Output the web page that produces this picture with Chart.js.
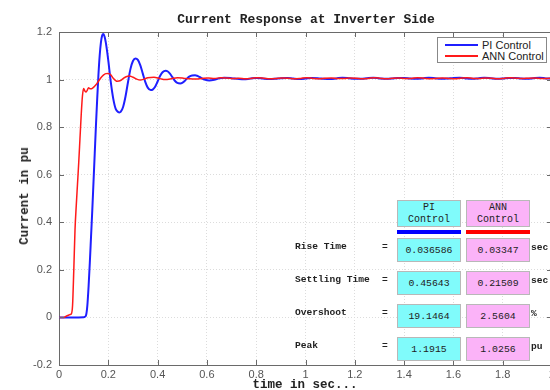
<!DOCTYPE html>
<html>
<head>
<meta charset="utf-8">
<script src="https://cdn.jsdelivr.net/npm/chart.js@4.4.1/dist/chart.umd.min.js"></script>
<style>
  html, body { margin: 0; padding: 0; background: #fff; overflow: hidden; }
  #wrap { position: relative; width: 560px; height: 390px; }
  canvas { position: absolute; left: 0; top: 0; }
  .mono { font-family: "Liberation Mono", "DejaVu Sans Mono", monospace; color: #222; }
  #title { position: absolute; left: 106px; width: 400px; top: 12px; text-align: center;
           font-size: 13px; font-weight: bold; }
  #xtitle { position: absolute; left: 205px; width: 200px; top: 378px; text-align: center;
            font-size: 12.5px; font-weight: bold; }
  #ytitle { position: absolute; left: 25px; top: 196px; white-space: nowrap;
            font-size: 12.5px; font-weight: bold; transform: translate(-50%, -50%) rotate(-90deg); }
  #legend { position: absolute; left: 437px; top: 37px; width: 108px; height: 24px;
            border: 1px solid #888; background: #fff; font-family: Arial, "Liberation Sans", sans-serif;
            font-size: 11px; color: #222; }
  #legend .row { position: absolute; left: 0; height: 12px; line-height: 12px; }
  #legend .sw { position: absolute; left: 7px; width: 33px; }
  #legend .lab { position: absolute; left: 44px; white-space: nowrap; }
  .box { position: absolute; width: 62px; height: 22px; border: 1px solid #b8b8b8;
         display: flex; align-items: center; justify-content: center; font-size: 9.8px; }
  .hdr { height: 25px; flex-direction: column; line-height: 11.5px; font-size: 10px; }
  .pi { background: #80fbfb; left: 397px; }
  .ann { background: #fbb3f8; left: 466px; }
  .bar { position: absolute; width: 64px; height: 4px; top: 230px; }
  .lbl { position: absolute; left: 295px; font-size: 9.6px; font-weight: bold; white-space: nowrap; transform: translateY(-50%); }
  .eq { position: absolute; left: 382px; font-size: 9.6px; font-weight: bold; transform: translateY(-50%); }
  .unit { position: absolute; left: 531px; font-size: 9.6px; font-weight: bold; transform: translateY(-50%); }
</style>
</head>
<body>
<div id="wrap">
  <canvas id="chart" width="560" height="390"></canvas>
  <div id="title" class="mono">Current Response at Inverter Side</div>
  <div id="xtitle" class="mono">time in sec...</div>
  <div id="ytitle" class="mono">Current in pu</div>
  <div id="legend"></div>
  <div id="table"></div>
</div>
<script>
// Step response of the inverter-side current (per unit) against time (s)
const piTime = [0, 0.05, 0.1, 0.105, 0.11, 0.115, 0.12, 0.125, 0.13, 0.135, 0.14, 0.145, 0.15, 0.155,
  0.16, 0.165, 0.17, 0.175, 0.18, 0.185, 0.19, 0.2, 0.21, 0.22, 0.23, 0.24, 0.245, 0.25, 0.26, 0.27,
  0.28, 0.29, 0.3, 0.31, 0.32, 0.33, 0.34, 0.35, 0.36, 0.372, 0.38, 0.39, 0.4, 0.41, 0.42, 0.433,
  0.44, 0.45, 0.46, 0.47, 0.48, 0.492, 0.5, 0.51, 0.52, 0.53, 0.54, 0.552, 0.56, 0.57, 0.58, 0.59,
  0.61, 0.63, 0.65, 0.67, 0.7, 0.725, 0.75, 0.775, 0.8, 0.825, 0.85, 0.875, 0.9, 0.925, 0.95, 0.975,
  1.0, 1.025, 1.05, 1.075, 1.1, 1.125, 1.15, 1.175, 1.2, 1.225, 1.25, 1.275, 1.3, 1.325, 1.35, 1.375,
  1.4, 1.425, 1.45, 1.475, 1.5, 1.525, 1.55, 1.575, 1.6, 1.625, 1.65, 1.675, 1.7, 1.725, 1.75, 1.775,
  1.8, 1.825, 1.85, 1.875, 1.9, 1.925, 1.95, 1.975, 2.0];
const piCurrent = [0, 0, 0.001, 0.003, 0.01, 0.05, 0.13, 0.23, 0.34, 0.45, 0.57, 0.69, 0.81, 0.92,
  1.02, 1.1, 1.155, 1.185, 1.1915, 1.18, 1.155, 1.08, 0.99, 0.92, 0.877, 0.864, 0.862, 0.864, 0.885, 0.93,
  0.99, 1.045, 1.078, 1.089, 1.083, 1.06, 1.025, 0.99, 0.966, 0.956, 0.958, 0.97, 0.992, 1.015, 1.031, 1.037,
  1.035, 1.025, 1.01, 0.995, 0.986, 0.984, 0.986, 0.994, 1.005, 1.013, 1.017, 1.018, 1.016, 1.011, 1.005, 1.0,
  0.996, 0.999, 1.005, 1.008, 1.006, 1.003, 1.001, 1.004, 1.007, 1.005, 1.002, 1.003, 1.006, 1.007, 1.004, 1.002,
  1.004, 1.007, 1.006, 1.003, 1.002, 1.005, 1.008, 1.006, 1.003, 1.003, 1.006, 1.008, 1.005, 1.003, 1.004, 1.007,
  1.007, 1.004, 1.003, 1.005, 1.008, 1.006, 1.003, 1.004, 1.007, 1.008, 1.005, 1.003, 1.005, 1.008, 1.006, 1.003,
  1.004, 1.007, 1.007, 1.004, 1.003, 1.006, 1.008, 1.005, 1.004];

const annTime = [0, 0.02, 0.025, 0.03, 0.035, 0.04, 0.045, 0.05, 0.055, 0.06, 0.065, 0.07, 0.075, 0.08,
  0.085, 0.09, 0.095, 0.1, 0.105, 0.11, 0.115, 0.12, 0.125, 0.13, 0.135, 0.14, 0.15, 0.16, 0.17, 0.18,
  0.19, 0.2, 0.205, 0.21, 0.22, 0.23, 0.236, 0.25, 0.26, 0.27, 0.285, 0.3, 0.315, 0.33, 0.345, 0.36,
  0.385, 0.41, 0.43, 0.455, 0.48, 0.505, 0.53, 0.555, 0.58, 0.605, 0.63, 0.655, 0.68, 0.705, 0.73, 0.755,
  0.78, 0.805, 0.83, 0.855, 0.88, 0.905, 0.93, 0.955, 0.98, 1.005, 1.03, 1.055, 1.08, 1.105, 1.13, 1.155,
  1.18, 1.205, 1.23, 1.255, 1.28, 1.305, 1.33, 1.355, 1.38, 1.405, 1.43, 1.455, 1.48, 1.505, 1.53, 1.555,
  1.58, 1.605, 1.63, 1.655, 1.68, 1.705, 1.73, 1.755, 1.78, 1.805, 1.83, 1.855, 1.88, 1.905, 1.93, 1.955,
  1.98, 2.0];
const annCurrent = [0, 0, 0.002, 0.006, 0.008, 0.01, 0.012, 0.015, 0.05, 0.2, 0.37, 0.47, 0.56, 0.65,
  0.75, 0.85, 0.93, 0.962, 0.952, 0.948, 0.956, 0.966, 0.962, 0.961, 0.963, 0.967, 0.978, 0.993, 1.008, 1.019,
  1.025, 1.0256, 1.024, 1.02, 1.006, 0.996, 0.993, 0.996, 1.004, 1.011, 1.015, 1.01, 1.002, 0.998, 1.002, 1.008,
  1.01, 1.004, 1.0, 1.003, 1.008, 1.006, 1.003, 1.002, 1.005, 1.007, 1.004, 1.008, 1.007, 1.004, 1.006, 1.003,
  1.005, 1.008, 1.006, 1.003, 1.004, 1.007, 1.006, 1.003, 1.005, 1.008, 1.005, 1.003, 1.006, 1.007, 1.004, 1.004,
  1.007, 1.006, 1.003, 1.005, 1.008, 1.005, 1.003, 1.006, 1.007, 1.004, 1.005, 1.008, 1.006, 1.003, 1.005, 1.007,
  1.005, 1.003, 1.006, 1.008, 1.005, 1.004, 1.007, 1.006, 1.003, 1.005, 1.008, 1.006, 1.004, 1.006, 1.007, 1.004,
  1.005, 1.006];

// Performance indices shown in the overlay table
const metricNames = ["Rise Time", "Settling Time", "Overshoot", "Peak"];
const piStats = ["0.036586", "0.45643", "19.1464", "1.1915"];
const annStats = ["0.03347", "0.21509", "2.5604", "1.0256"];
const metricUnits = ["sec", "sec", "%", "pu"];
const seriesNames = ["PI Control", "ANN Control"];

const xTicks = { min: 0, max: 2, step: 0.2 };
const yTicks = { min: -0.2, max: 1.2, step: 0.2 };

const toPoints = (xs, ys) => xs.map((x, i) => ({ x: x, y: ys[i] }));
const fmtTick = v => String(Number(v.toFixed(1)) || 0);

// MATLAB-style box: inward tick marks and a top border line
const boxTicks = {
  id: 'boxTicks',
  afterDraw(chart) {
    const { ctx, chartArea: a, scales } = chart;
    ctx.save();
    ctx.strokeStyle = '#6a6a6a';
    ctx.lineWidth = 1;
    ctx.beginPath();
    ctx.moveTo(a.left, a.top + 0.5);
    ctx.lineTo(a.right, a.top + 0.5);
    scales.x.ticks.forEach(t => {
      const px = Math.round(scales.x.getPixelForValue(t.value)) + 0.5;
      ctx.moveTo(px, a.bottom); ctx.lineTo(px, a.bottom - 5);
      ctx.moveTo(px, a.top); ctx.lineTo(px, a.top + 5);
    });
    scales.y.ticks.forEach(t => {
      const py = Math.round(scales.y.getPixelForValue(t.value)) + 0.5;
      ctx.moveTo(a.left, py); ctx.lineTo(a.left + 5, py);
      ctx.moveTo(a.right, py); ctx.lineTo(a.right - 5, py);
    });
    ctx.stroke();
    ctx.restore();
  }
};

new Chart(document.getElementById('chart'), {
  type: 'line',
  data: {
    datasets: [
      { label: seriesNames[0], data: toPoints(piTime, piCurrent), borderColor: '#1f1fff', order: 2,
        borderWidth: 2, pointRadius: 0, cubicInterpolationMode: 'monotone', fill: false },
      { label: seriesNames[1], data: toPoints(annTime, annCurrent), borderColor: '#ff1a1a', order: 1,
        borderWidth: 1.5, pointRadius: 0, cubicInterpolationMode: 'monotone', fill: false }
    ]
  },
  options: {
    responsive: false,
    animation: false,
    layout: { padding: { left: 0, top: 32, right: 8, bottom: 0 } },
    plugins: { legend: { display: false }, title: { display: false }, tooltip: { enabled: false } },
    scales: {
      x: {
        type: 'linear', min: xTicks.min, max: xTicks.max,
        ticks: { stepSize: xTicks.step, color: '#555', padding: 3, callback: fmtTick,
                 font: { family: 'Arial, "Liberation Sans", sans-serif', size: 11 } },
        grid: { color: '#dcdcdc', drawTicks: false, lineWidth: 1 },
        border: { display: true, color: '#6a6a6a', width: 1, dash: [1, 2] },
        afterFit(s) { s.height = 25; }
      },
      y: {
        type: 'linear', min: yTicks.min, max: yTicks.max,
        ticks: { stepSize: yTicks.step, color: '#555', padding: 7, callback: fmtTick,
                 font: { family: 'Arial, "Liberation Sans", sans-serif', size: 11 } },
        grid: { color: '#dcdcdc', drawTicks: false, lineWidth: 1 },
        border: { display: true, color: '#6a6a6a', width: 1, dash: [1, 2] },
        afterFit(s) { s.width = 59; }
      }
    }
  },
  plugins: [boxTicks]
});

// Legend
const legend = document.getElementById('legend');
const legendColors = ['#1f1fff', '#ff1a1a'];
const legendWidths = [2, 1.5];
seriesNames.forEach((name, i) => {
  const row = document.createElement('div');
  row.className = 'row';
  row.style.top = (1 + i * 11) + 'px';
  row.style.width = '100%';
  row.innerHTML = '<div class="sw" style="top:' + (6 - legendWidths[i] / 2) + 'px;height:' + legendWidths[i] +
    'px;background:' + legendColors[i] + '"></div><div class="lab">' + name + '</div>';
  legend.appendChild(row);
});

// Overlay table of performance indices
const table = document.getElementById('table');
const rowTops = [238, 271, 304, 337];
let html = '';
html += '<div class="box hdr pi mono" style="top:200px"><span>PI</span><span>Control</span></div>';
html += '<div class="box hdr ann mono" style="top:200px"><span>ANN</span><span>Control</span></div>';
html += '<div class="bar" style="left:397px;background:#0000ff"></div>';
html += '<div class="bar" style="left:466px;background:#ff0000"></div>';
metricNames.forEach((name, i) => {
  const top = rowTops[i];
  const mid = top + 12;
  html += '<div class="lbl mono" style="top:' + (mid - 4) + 'px">' + name + '</div>';
  html += '<div class="eq mono" style="top:' + (mid - 4) + 'px">=</div>';
  html += '<div class="box pi mono" style="top:' + top + 'px">' + piStats[i] + '</div>';
  html += '<div class="box ann mono" style="top:' + top + 'px">' + annStats[i] + '</div>';
  html += '<div class="unit mono" style="top:' + (mid - 3) + 'px">' + metricUnits[i] + '</div>';
});
table.innerHTML = html;
</script>
</body>
</html>
